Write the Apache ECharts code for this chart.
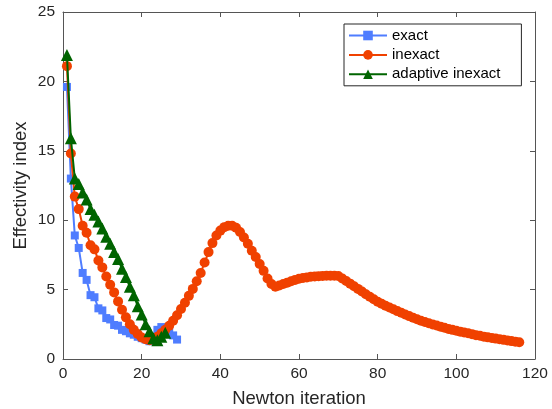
<!DOCTYPE html>
<html>
<head>
<meta charset="utf-8">
<script src="https://cdn.jsdelivr.net/npm/echarts@6/dist/echarts.min.js"></script>
<style>
html,body{margin:0;padding:0;background:#fff;}
#chart{width:552px;height:409px;}
</style>
</head>
<body>
<div id="chart"></div>
<script>
// Effectivity index per Newton iteration (iteration = index + 1)
const exactValues = [
  19.6, 13.0, 8.9, 8.0, 6.2, 5.7, 4.6, 4.45, 3.65, 3.5,
  2.95, 2.85, 2.45, 2.4, 2.1, 2.0, 1.85, 1.75, 1.6, 1.5,
  1.4, 1.28, 1.5, 2.1, 2.3, 2.2, 1.95, 1.7, 1.4
];
const inexactValues = [
  21.1, 14.8, 11.7, 10.8, 9.6, 9.1, 8.2, 7.9, 7.1, 6.6,
  5.95, 5.35, 4.8, 4.15, 3.55, 3.0, 2.5, 2.1, 1.8, 1.55,
  1.42, 1.35, 1.42, 1.6, 1.85, 2.1, 2.4, 2.75, 3.15, 3.6,
  4.05, 4.55, 5.05, 5.6, 6.2, 6.95, 7.7, 8.35, 8.9, 9.25,
  9.5, 9.6, 9.6, 9.45, 9.15, 8.75, 8.3, 7.8, 7.35, 6.85,
  6.35, 5.8, 5.4, 5.2, 5.3, 5.4, 5.5, 5.6, 5.7, 5.78,
  5.84, 5.88, 5.92, 5.95, 5.97, 5.98, 6.0, 6.0, 6.0, 5.98,
  5.8, 5.62, 5.43, 5.24, 5.05, 4.86, 4.67, 4.49, 4.3, 4.12,
  3.98, 3.84, 3.71, 3.58, 3.45, 3.33, 3.21, 3.09, 2.97, 2.86,
  2.76, 2.67, 2.58, 2.49, 2.41, 2.33, 2.25, 2.17, 2.1, 2.03,
  1.97, 1.91, 1.85, 1.79, 1.72, 1.67, 1.61, 1.56, 1.51, 1.47,
  1.42, 1.38, 1.33, 1.29, 1.25, 1.21
];
const adaptiveValues = [
  21.9, 15.9, 13.0, 12.6, 12.0, 11.5, 10.8, 10.4, 9.9, 9.4,
  8.8, 8.3, 7.7, 7.2, 6.5, 5.9, 5.2, 4.6, 3.8, 3.2,
  2.5, 2.0, 1.5, 1.35, 1.6, 1.9
];
const seriesNames = ['exact', 'inexact', 'adaptive inexact'];
const xTicks = { min: 0, max: 120, interval: 20 };
const yTicks = { min: 0, max: 25, interval: 5 };
const xLabel = 'Newton iteration';
const yLabel = 'Effectivity index';

const toPairs = arr => arr.map((v, i) => [i + 1, v]);
const FONT = "'Liberation Sans', Arial, Helvetica, sans-serif";
const AX = '#262626';
const FRAME = '#555555';

const chart = echarts.init(document.getElementById('chart'), null, {renderer: 'canvas'});

function decoAxis(extra) {
  return Object.assign({
    type: 'value',
    axisLine: {show: true, onZero: false, lineStyle: {color: FRAME, width: 1}},
    axisTick: {show: true, inside: true, length: 5, lineStyle: {color: FRAME}},
    splitLine: {show: false},
  }, extra);
}

chart.setOption({
  animation: false,
  backgroundColor: '#ffffff',
  textStyle: {fontFamily: FONT},
  grid: {left: 63, right: 17, top: 12, bottom: 50, containLabel: false, outerBoundsMode: 'none'},
  legend: {
    orient: 'vertical',
    left: 344,
    top: 24,
    data: seriesNames,
    itemWidth: 38,
    itemHeight: 12,
    itemGap: 4.4,
    padding: [4, 21, 4, 4],
    borderColor: '#262626',
    borderWidth: 1,
    backgroundColor: '#ffffff',
    textStyle: {fontFamily: FONT, fontSize: 15, color: '#000000', lineHeight: 12}
  },
  xAxis: [
    decoAxis({
      position: 'bottom',
      min: xTicks.min, max: xTicks.max, interval: xTicks.interval,
      name: xLabel, nameLocation: 'middle', nameGap: 30, nameMoveOverlap: false,
      nameTextStyle: {fontFamily: FONT, fontSize: 18.5, color: AX},
      axisLabel: {show: true, margin: 7, fontFamily: FONT, fontSize: 15.5, color: AX}
    }),
    decoAxis({
      position: 'top',
      min: xTicks.min, max: xTicks.max, interval: xTicks.interval,
      axisLabel: {show: false}
    })
  ],
  yAxis: [
    decoAxis({
      position: 'left',
      min: yTicks.min, max: yTicks.max, interval: yTicks.interval,
      name: yLabel, nameLocation: 'middle', nameGap: 33, nameRotate: 90, nameMoveOverlap: false,
      nameTextStyle: {fontFamily: FONT, fontSize: 18.5, color: AX},
      axisLabel: {show: true, margin: 8, fontFamily: FONT, fontSize: 15.5, color: AX}
    }),
    decoAxis({
      position: 'right',
      min: yTicks.min, max: yTicks.max, interval: yTicks.interval,
      axisLabel: {show: false}
    })
  ],
  series: [
    {
      name: seriesNames[0], type: 'line', xAxisIndex: 0, yAxisIndex: 0,
      data: toPairs(exactValues),
      symbol: 'rect', symbolSize: 8, showAllSymbol: true,
      lineStyle: {color: '#4f7dff', width: 2},
      itemStyle: {color: '#4f7dff'},
      z: 2
    },
    {
      name: seriesNames[1], type: 'line', xAxisIndex: 0, yAxisIndex: 0,
      data: toPairs(inexactValues),
      symbol: 'circle', symbolSize: 10, showAllSymbol: true,
      lineStyle: {color: '#f04100', width: 2},
      itemStyle: {color: '#f04100'},
      z: 3
    },
    {
      name: seriesNames[2], type: 'line', xAxisIndex: 0, yAxisIndex: 0,
      data: toPairs(adaptiveValues),
      symbol: 'triangle', symbolSize: 12, showAllSymbol: true,
      lineStyle: {color: '#006400', width: 2},
      itemStyle: {color: '#006400'},
      z: 4
    }
  ]
});
</script>
</body>
</html>
